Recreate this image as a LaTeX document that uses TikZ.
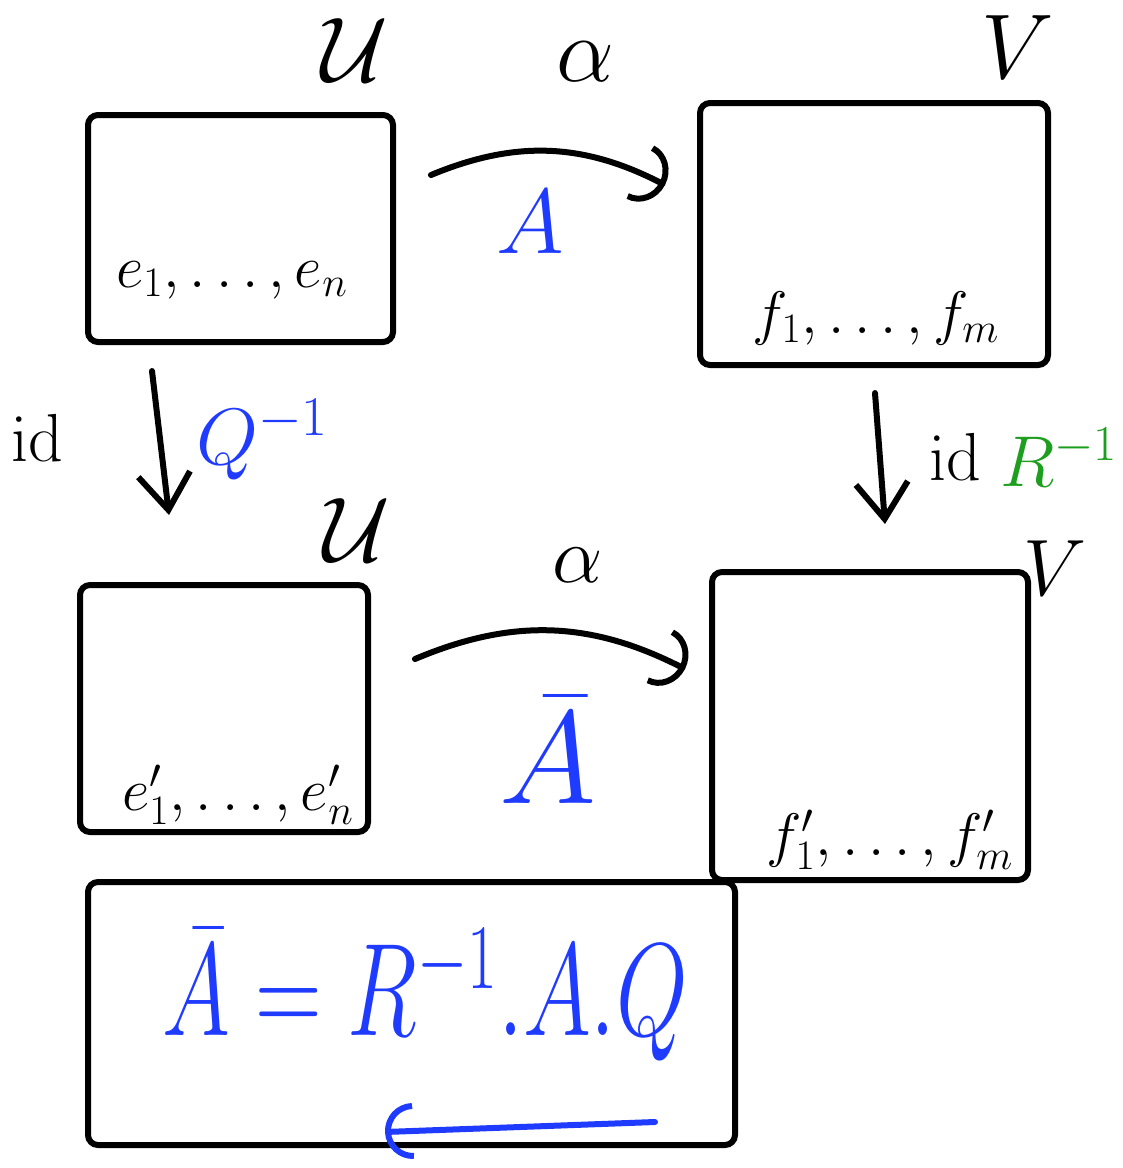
\RequirePackage{fix-cm}
\documentclass[tikz,border=0pt]{standalone}
\usepackage{amsmath}
\usetikzlibrary{arrows.meta,calc}
\definecolor{hblue}{HTML}{1F3BFF}
\definecolor{hgreen}{HTML}{1E9E1E}
\begin{document}
\begin{tikzpicture}[x=0.5pt,y=-0.5pt,
  boxshape/.style={draw=black,line width=3pt,inner sep=0pt,rounded corners=5pt},
  harrow/.style={draw=black,line width=3pt,line cap=round,-{Arc Barb[length=14pt,width=30pt,line width=3pt]}},
  varrow/.style={draw=black,line width=3pt,line cap=round,-{Straight Barb[length=18pt,width=26pt,line width=3pt]}},
  barrow/.style={draw=hblue,line width=3pt,line cap=round,-{Arc Barb[length=14pt,width=28pt,line width=3pt]}},
  lblL/.style={inner sep=0pt,font=\fontsize{46}{54}\selectfont},
  lblS/.style={inner sep=0pt,font=\fontsize{40}{48}\selectfont},
  lblR/.style={inner sep=0pt,font=\fontsize{36}{44}\selectfont},
  lblM/.style={inner sep=0pt,font=\fontsize{34}{40}\selectfont},
  lblB/.style={inner sep=0pt,font=\fontsize{30}{36}\selectfont},
  bluetext/.style={text=hblue},
  greentext/.style={text=hgreen}]
\useasboundingbox (0,0) rectangle (1123,1168);
% boxes
\node[boxshape,minimum width=152.5pt,minimum height=113.5pt] (b1) at (240.5,228.5) {};
\node[boxshape,minimum width=174pt,minimum height=131pt] (b2) at (874,234) {};
\node[boxshape,minimum width=144pt,minimum height=123.5pt] (b3) at (224,708.5) {};
\node[boxshape,minimum width=158pt,minimum height=154pt] (b4) at (870,726) {};
\node[boxshape,minimum width=323.5pt,minimum height=131.5pt] (b5) at (411.5,1013.5) {};
% labels of spaces
\node[lblL] (u1) at (355,50) {$\mathcal{U}$};
\node[lblL] (v1) at (1018,47) {$V$};
\node[lblL] (al1) at (585,62) {$\alpha$};
\node[lblL] (u2) at (357,530) {$\mathcal{U}$};
\node[lblS] (v2) at (1055,568) {$V$};
\node[lblS] (al2) at (578,565) {$\alpha$};
% bases
\node[lblB] (eb) at (232,280) {$e_1,\ldots,e_n$};
\node[lblB] (fb) at (876,318) {$f_1,\ldots,f_m$};
\node[lblB] (ebp) at (238,795) {$e'_1,\ldots,e'_n$};
\node[lblB] (fbp) at (890,840) {$f'_1,\ldots,f'_m$};
% matrices
\node[lblL,bluetext] (A1) at (530,222) {$A$};
\node[lblL,bluetext,font=\fontsize{66}{76}\selectfont] (Ab) at (548,750) {$\bar{A}$};
\node[lblM] (idl) at (37,438) {$\mathrm{id}$};
\node[lblS,bluetext,anchor=west] (Qi) at (196,440) {$Q^{-1}$};
\node[lblM] (idr) at (955,457) {$\mathrm{id}$};
\node[lblR,greentext,anchor=west] (Ri) at (1000,457) {$R^{-1}$};
% formula
\node[inner sep=0pt,bluetext,font=\fontsize{66}{76}\selectfont] (fm) at (425,995) {\scalebox{0.7}[1]{$\bar{A} = R^{-1}.A.Q$}};
% connectors
\draw[harrow] ($(b1.north east)+(35,63)$) to[bend left=25] ($(b2.north west)+(-32,85)$);
\draw[harrow] ($(b3.north east)+(44,77)$) to[bend left=25] ($(b4.north west)+(-24,100)$);
\draw[varrow] ($(b1.south west)+(67,26)$) -- ($(b3.north west)+(92,-67)$);
\draw[varrow] ($(b2.south west)+(178,25)$) -- ($(b4.north west)+(176,-45)$);
\draw[barrow] ($(fm.center)+(230,127)$) -- ($(fm.center)+(-40,137)$);
\end{tikzpicture}
\end{document}
